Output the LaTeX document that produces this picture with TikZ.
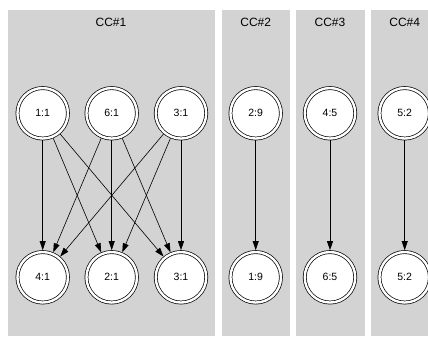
\documentclass[tikz,border=0pt]{standalone}
\usepackage{fontspec}
\setmainfont{Liberation Sans}
\usetikzlibrary{arrows.meta}
\definecolor{ccgray}{HTML}{D3D3D3}
\tikzset{
  ccbox/.style={fill=ccgray, draw=none},
  cclabel/.style={font=\fontsize{12}{14}\selectfont},
  statenode/.style={circle, draw, fill=white, double, double distance=2.4pt,
    line width=0.7pt, minimum size=50.5pt, inner sep=0pt, outer sep=1.9pt,
    font=\fontsize{10.5}{12}\selectfont},
  edge/.style={-{Triangle[length=9pt,width=6pt]}, line width=0.6pt},
}

\begin{document}
\begin{tikzpicture}[x=1pt, y=-1pt]
    \clip (0,0) rectangle (428,337);
    \useasboundingbox (0,0) rectangle (428,337);
    % clusters
    \fill[ccbox] (8,10) rectangle (215,336);
    \fill[ccbox] (222,10) rectangle (290,336);
    \fill[ccbox] (296,10) rectangle (365,336);
    \fill[ccbox] (371,10) rectangle (440,336);
    \node[cclabel] (cc1) at (111,22.5) {CC\#1};
    \node[cclabel] (cc2) at (255.7,22.5) {CC\#2};
    \node[cclabel] (cc3) at (330,22.5) {CC\#3};
    \node[cclabel] (cc4) at (404.7,22.5) {CC\#4};
    % CC#1
    \node[statenode] (a11) at (42.7,113.3) {1:1};
    \node[statenode] (a61) at (111.7,113.3) {6:1};
    \node[statenode] (a31) at (181,113.3) {3:1};
    \node[statenode] (b41) at (42.7,277.3) {4:1};
    \node[statenode] (b21) at (111.7,277.3) {2:1};
    \node[statenode] (b31) at (181,277.3) {3:1};
    \foreach \s in {a11,a61,a31}
      \foreach \t in {b41,b21,b31}
        \draw[edge] (\s) -- (\t);
    % CC#2
    \node[statenode] (a29) at (255.7,113.3) {2:9};
    \node[statenode] (b19) at (255.7,277.3) {1:9};
    \draw[edge] (a29) -- (b19);
    % CC#3
    \node[statenode] (a45) at (330,113.3) {4:5};
    \node[statenode] (b65) at (330,277.3) {6:5};
    \draw[edge] (a45) -- (b65);
    % CC#4
    \node[statenode] (a52) at (404.7,113.3) {5:2};
    \node[statenode] (b52) at (404.7,277.3) {5:2};
    \draw[edge] (a52) -- (b52);
\end{tikzpicture}
\end{document}
